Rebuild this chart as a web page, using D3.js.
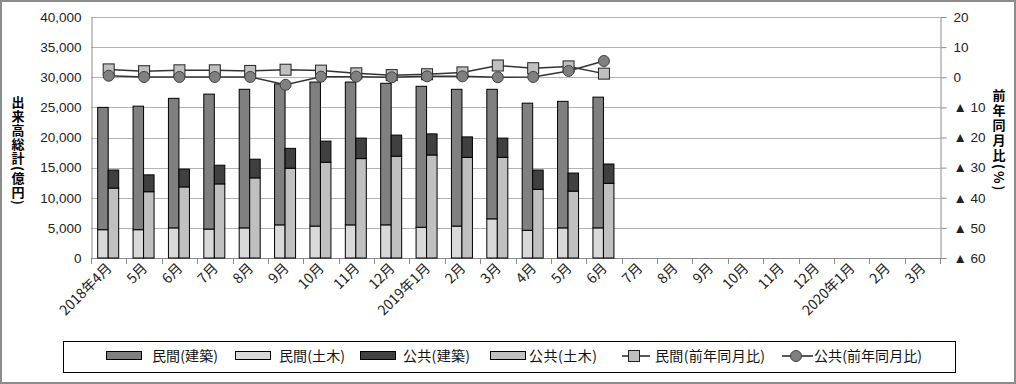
<!DOCTYPE html>
<html>
<head>
<meta charset="utf-8">
<script src="https://cdn.jsdelivr.net/npm/d3@7"></script>
<style>
  body { margin: 0; background: #fff; }
  svg { display: block; font-family: "Noto Sans CJK JP", "Noto Sans", sans-serif; }
</style>
</head>
<body>
<div id="chart"></div>
<script>
const width = 1016;
const height = 384;

// month labels (Apr 2018 - Mar 2020)
const months = ["2018年4月", "5月", "6月", "7月", "8月", "9月", "10月", "11月", "12月",
  "2019年1月", "2月", "3月", "4月", "5月", "6月", "7月", "8月", "9月", "10月", "11月", "12月",
  "2020年1月", "2月", "3月"];

// 出来高 (億円), only the first 15 months have data
const privBuild = [20300, 20500, 21500, 22400, 23000, 23400, 23900, 23700, 23500, 23400, 22700, 21500, 21100, 21000, 21700];
const privCivil = [4700, 4700, 5000, 4800, 5000, 5500, 5300, 5500, 5500, 5100, 5300, 6500, 4600, 5000, 5000];
const pubBuild = [3000, 2800, 2950, 3100, 3100, 3300, 3500, 3400, 3500, 3500, 3400, 3200, 3200, 3000, 3200];
const pubCivil = [11600, 11000, 11800, 12300, 13300, 14900, 15900, 16500, 16900, 17100, 16700, 16700, 11400, 11100, 12400];

// 前年同月比 (%)
const privYoY = [2.6, 2.0, 2.3, 2.3, 2.1, 2.5, 2.2, 1.3, 0.7, 1.0, 1.6, 3.9, 3.0, 3.6, 1.2];
const pubYoY = [0.5, 0.1, 0.1, 0.1, 0.1, -2.5, 0.2, 0.2, 0.0, 0.3, 0.3, 0.0, 0.1, 2.1, 5.4];

const leftTicks = d3.range(0, 40001, 5000);
const rightTicks = d3.range(-60, 21, 10);

const colors = {
  privBuild: "#808080",
  privCivil: "#d9d9d9",
  pubBuild: "#404040",
  pubCivil: "#c0c0c0"
};

const plot = { left: 91, right: 940, top: 17, bottom: 258 };

const svg = d3.select("#chart").append("svg")
  .attr("width", width)
  .attr("height", height)
  .style("font-size", "13px");

// outer frame
svg.append("rect")
  .attr("x", 1).attr("y", 1)
  .attr("width", width - 2).attr("height", height - 2)
  .attr("fill", "none").attr("stroke", "#8c8c8c").attr("stroke-width", 2);

const x = d3.scaleBand()
  .domain(d3.range(months.length))
  .range([plot.left, plot.right]);

const y = d3.scaleLinear().domain([0, 40000]).range([plot.bottom, plot.top]);
const yr = d3.scaleLinear().domain([-60, 20]).range([plot.bottom, plot.top]);

// gridlines
svg.append("g")
  .selectAll("line")
  .data(leftTicks)
  .join("line")
  .attr("x1", plot.left).attr("x2", plot.right)
  .attr("y1", d => Math.round(y(d)) + 0.5).attr("y2", d => Math.round(y(d)) + 0.5)
  .attr("stroke", "#b3b3b3");

// left axis
const yAxis = svg.append("g")
  .attr("transform", `translate(${plot.left + 0.5},0)`)
  .call(d3.axisLeft(y).tickValues(leftTicks).tickSize(0).tickPadding(10).tickFormat(d3.format(",")));
yAxis.select(".domain").attr("stroke", "#8c8c8c");
yAxis.selectAll("text").attr("fill", "#222").style("font-size", "13.5px");

// right axis
const yrAxis = svg.append("g")
  .attr("transform", `translate(${plot.right + 0.5},0)`)
  .call(d3.axisRight(yr).tickValues(rightTicks).tickSize(6).tickPadding(7)
    .tickFormat(d => d < 0 ? "▲ " + (-d) : d));
yrAxis.select(".domain").attr("stroke", "#8c8c8c");
yrAxis.selectAll(".tick line").attr("stroke", "#8c8c8c");
yrAxis.selectAll("text").attr("fill", "#222").style("font-size", "13.5px");

// bottom axis line with ticks at category boundaries
const xg = svg.append("g");
xg.append("line")
  .attr("x1", plot.left).attr("x2", plot.right)
  .attr("y1", plot.bottom + 0.5).attr("y2", plot.bottom + 0.5)
  .attr("stroke", "#8c8c8c");
xg.selectAll("line.tk")
  .data(d3.range(months.length + 1))
  .join("line")
  .attr("class", "tk")
  .attr("x1", i => Math.round(plot.left + i * x.step()) + 0.5)
  .attr("x2", i => Math.round(plot.left + i * x.step()) + 0.5)
  .attr("y1", plot.bottom).attr("y2", plot.bottom + 6)
  .attr("stroke", "#8c8c8c");
xg.selectAll("text")
  .data(months)
  .join("text")
  .attr("transform", (d, i) => `translate(${x(i) + x.bandwidth() / 2 + 4},${plot.bottom + 11}) rotate(-45)`)
  .attr("text-anchor", "end")
  .attr("fill", "#222")
  .style("font-size", "14px")
  .text(d => d);

// bars
const barW = 10.5;
const bars = svg.append("g").attr("stroke", "#000").attr("stroke-width", 1);
privCivil.forEach((v, i) => {
  const cx = x(i) + x.bandwidth() / 2;
  const lx = cx - barW - 0.5;
  const rx = cx - 0.5;
  bars.append("rect").attr("x", lx).attr("width", barW)
    .attr("y", y(v)).attr("height", y(0) - y(v)).attr("fill", colors.privCivil);
  bars.append("rect").attr("x", lx).attr("width", barW)
    .attr("y", y(v + privBuild[i])).attr("height", y(v) - y(v + privBuild[i])).attr("fill", colors.privBuild);
  bars.append("rect").attr("x", rx).attr("width", barW)
    .attr("y", y(pubCivil[i])).attr("height", y(0) - y(pubCivil[i])).attr("fill", colors.pubCivil);
  bars.append("rect").attr("x", rx).attr("width", barW)
    .attr("y", y(pubCivil[i] + pubBuild[i])).attr("height", y(pubCivil[i]) - y(pubCivil[i] + pubBuild[i])).attr("fill", colors.pubBuild);
});

// lines
const line = d3.line()
  .x((d, i) => x(i) + x.bandwidth() / 2)
  .y(d => yr(d));

svg.append("path").datum(privYoY)
  .attr("d", line).attr("fill", "none").attr("stroke", "#333").attr("stroke-width", 1.5);
svg.append("path").datum(pubYoY)
  .attr("d", line).attr("fill", "none").attr("stroke", "#333").attr("stroke-width", 1.5);

svg.append("g").selectAll("rect")
  .data(privYoY)
  .join("rect")
  .attr("x", (d, i) => x(i) + x.bandwidth() / 2 - 5.5)
  .attr("y", d => yr(d) - 5.5)
  .attr("width", 11).attr("height", 11)
  .attr("fill", "#c0c0c0").attr("stroke", "#222");

svg.append("g").selectAll("circle")
  .data(pubYoY)
  .join("circle")
  .attr("cx", (d, i) => x(i) + x.bandwidth() / 2)
  .attr("cy", d => yr(d))
  .attr("r", 5.5)
  .attr("fill", "#808080").attr("stroke", "#404040");

// axis titles
svg.append("text")
  .attr("x", 18).attr("y", 96)
  .attr("writing-mode", "vertical-rl")
  .style("font-size", "13px").style("font-weight", "bold")
  .style("letter-spacing", "1px")
  .text("出来高総計(億円)");

svg.append("text")
  .attr("x", 999).attr("y", 89)
  .attr("writing-mode", "vertical-rl")
  .style("font-size", "13px").style("font-weight", "bold")
  .style("letter-spacing", "2px")
  .text("前年同月比(%)");

// legend
const lg = svg.append("g");
lg.append("rect")
  .attr("x", 63.5).attr("y", 341.5).attr("width", 892).attr("height", 31)
  .attr("fill", "#fff").attr("stroke", "#000");

const legendBars = [
  { label: "民間(建築)", color: colors.privBuild, x: 106, tx: 152, w: 66 },
  { label: "民間(土木)", color: colors.privCivil, x: 235, tx: 279, w: 66 },
  { label: "公共(建築)", color: colors.pubBuild, x: 360, tx: 403, w: 67 },
  { label: "公共(土木)", color: colors.pubCivil, x: 490, tx: 529, w: 68 }
];
legendBars.forEach(d => {
  lg.append("rect").attr("x", d.x + 0.5).attr("y", 351.5).attr("width", 35).attr("height", 8)
    .attr("fill", d.color).attr("stroke", "#000");
  lg.append("text").attr("x", d.tx).attr("y", 361).attr("fill", "#111")
    .attr("textLength", d.w).attr("lengthAdjust", "spacing")
    .style("font-size", "14px").text(d.label);
});

lg.append("line").attr("x1", 622).attr("x2", 650).attr("y1", 356).attr("y2", 356)
  .attr("stroke", "#222").attr("stroke-width", 1.5);
lg.append("rect").attr("x", 628.5).attr("y", 350.5).attr("width", 11).attr("height", 11)
  .attr("fill", "#c0c0c0").attr("stroke", "#222");
lg.append("text").attr("x", 655).attr("y", 361).attr("fill", "#111")
  .attr("textLength", 110).attr("lengthAdjust", "spacing")
  .style("font-size", "14px").text("民間(前年同月比)");

lg.append("line").attr("x1", 782).attr("x2", 813).attr("y1", 356).attr("y2", 356)
  .attr("stroke", "#222").attr("stroke-width", 1.5);
lg.append("circle").attr("cx", 796).attr("cy", 356).attr("r", 5.5)
  .attr("fill", "#808080").attr("stroke", "#404040");
lg.append("text").attr("x", 814).attr("y", 361).attr("fill", "#111")
  .attr("textLength", 108).attr("lengthAdjust", "spacing")
  .style("font-size", "14px").text("公共(前年同月比)");
</script>
</body>
</html>
